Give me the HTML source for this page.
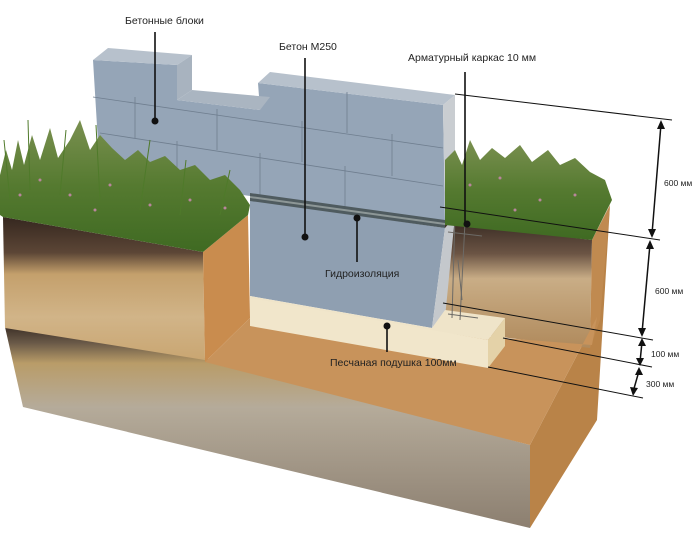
<!DOCTYPE html>
<html><head><meta charset="utf-8"><style>
html,body{margin:0;padding:0;background:#fff;}
svg{display:block;}
text{font-family:"Liberation Sans",sans-serif;font-size:10.5px;fill:#222;}
</style></head><body>
<svg width="694" height="536" viewBox="0 0 694 536" xmlns="http://www.w3.org/2000/svg">
<defs>
<linearGradient id="upper" x1="0" y1="0" x2="0" y2="1">
<stop offset="0" stop-color="#35271f"/><stop offset="0.25" stop-color="#5c4636"/>
<stop offset="0.4" stop-color="#c4a06c"/><stop offset="0.7" stop-color="#d1b488"/>
<stop offset="1" stop-color="#c9a672"/></linearGradient>
<linearGradient id="lower" x1="0" y1="0" x2="0" y2="1">
<stop offset="0" stop-color="#3e3128"/><stop offset="0.08" stop-color="#6a5a48"/>
<stop offset="0.18" stop-color="#b99c68"/><stop offset="0.4" stop-color="#b5ab9a"/>
<stop offset="1" stop-color="#8c7f70"/></linearGradient>
<linearGradient id="rsoil" x1="0" y1="0" x2="0" y2="1">
<stop offset="0" stop-color="#3a2c24"/><stop offset="0.25" stop-color="#6b5444"/>
<stop offset="0.45" stop-color="#c9ad86"/><stop offset="1" stop-color="#b08a5c"/></linearGradient>
<linearGradient id="grass" x1="0" y1="0" x2="0" y2="1">
<stop offset="0" stop-color="#7a9050"/><stop offset="0.5" stop-color="#557a30"/><stop offset="1" stop-color="#3f6a22"/></linearGradient>
</defs>

<!-- right outer face -->
<polygon points="530,445 597,317 610,205 597,420 530,528" fill="#b98348"/>
<!-- lower slab front -->
<polygon points="5,327 205,358 530,445 530,528 23,407" fill="url(#lower)"/>
<!-- upper left soil block front -->
<polygon points="3,217 203,252 205,360 5,328" fill="url(#upper)"/>
<!-- left block right face -->
<polygon points="203,252 248,215 250,318 205,362" fill="#c98c4e"/>

<!-- right soil block face -->
<polygon points="445,222 592,240 590,348 445,330" fill="url(#rsoil)"/>
<polygon points="592,240 610,205 600,320 590,348" fill="#c08a50"/>

<!-- trench floor -->
<polygon points="205,362 250,318 592,345 597,317 530,445" fill="#c8935b"/>

<!-- wall blocks -->
<polygon points="93,60 177,65 177,100 260,110 258,83 443,105 445,222 250,196 100,175" fill="#95a5b7"/>
<polygon points="93,60 108,48 192,55 177,65" fill="#b7c1cc"/>
<polygon points="177,100 192,90 270,97 260,110" fill="#aab5c1"/>
<polygon points="258,83 270,72 455,95 443,105" fill="#b7c1cc"/>
<polygon points="177,65 192,55 192,90 177,100" fill="#a8b3bf"/>
<polygon points="443,105 455,95 455,210 445,222" fill="#c9cdd1"/>
<g stroke="#6f7e8f" stroke-width="0.8" fill="none">
<line x1="93" y1="97" x2="443" y2="148"/>
<line x1="100" y1="133" x2="443" y2="186"/>
<line x1="347" y1="92" x2="347" y2="133"/>
<line x1="135" y1="97" x2="135" y2="138"/>
<line x1="217" y1="109" x2="217" y2="150"/>
<line x1="302" y1="121" x2="302" y2="162"/>
<line x1="392" y1="134" x2="392" y2="176"/>
<line x1="177" y1="141" x2="177" y2="185"/>
<line x1="260" y1="153" x2="260" y2="196"/>
<line x1="345" y1="166" x2="345" y2="210"/>
</g>

<!-- concrete base -->
<polygon points="250,200 445,228 432,328 250,296" fill="#8f9fb1"/>
<polygon points="445,228 455,216 445,318 432,328" fill="#c4c8cc"/>
<polygon points="250,193 445,220 445,228 250,201" fill="#4f5b5f"/>
<polygon points="250,196 445,223 445,225 250,198" fill="#8d9797"/>

<!-- sand cushion -->
<polygon points="250,296 432,328 445,310 505,318 488,340 250,300" fill="#efe4c9"/>
<polygon points="250,298 488,340 488,368 250,326" fill="#f1e6cb"/>
<polygon points="488,340 505,318 505,346 488,368" fill="#e4d2a8"/>

<!-- rebar -->
<g stroke="#6c6a66" stroke-width="1" fill="none">
<line x1="455" y1="215" x2="452" y2="318"/>
<line x1="465" y1="222" x2="460" y2="320"/>
<line x1="448" y1="232" x2="482" y2="236"/>
<line x1="448" y1="314" x2="478" y2="318"/>
<line x1="458" y1="260" x2="462" y2="300"/>
</g>

<!-- left grass -->
<path d="M0,215 L0,175 L6,150 L12,170 L18,140 L24,165 L32,135 L40,160 L50,128 L58,158 L70,140 L80,120 L90,150 L100,135 L112,148 L125,160 L138,150 L150,162 L165,156 L180,170 L195,165 L210,180 L225,175 L240,190 L250,205 L248,215 L203,252 L3,217 Z" fill="url(#grass)"/>
<g stroke="#4f7a2a" stroke-width="1" fill="none">
<path d="M10,200 L4,140 M30,190 L28,120 M60,195 L66,130 M100,200 L96,125 M140,210 L150,140 M180,215 L186,160 M220,215 L230,170"/>
</g>
<g fill="#b9869c"><circle cx="40" cy="180" r="1.5"/><circle cx="70" cy="195" r="1.5"/><circle cx="110" cy="185" r="1.5"/><circle cx="150" cy="205" r="1.5"/><circle cx="190" cy="200" r="1.5"/><circle cx="95" cy="210" r="1.5"/><circle cx="225" cy="208" r="1.5"/><circle cx="20" cy="195" r="1.5"/></g>
<!-- right grass -->
<path d="M445,225 L445,160 L455,150 L462,165 L470,140 L480,160 L492,148 L505,158 L520,145 L532,162 L548,150 L560,165 L575,158 L590,172 L605,180 L612,200 L592,240 Z" fill="url(#grass)"/>
<g fill="#b9869c"><circle cx="470" cy="185" r="1.5"/><circle cx="500" cy="178" r="1.5"/><circle cx="540" cy="200" r="1.5"/><circle cx="575" cy="195" r="1.5"/><circle cx="515" cy="210" r="1.5"/></g>

<!-- leader lines -->
<g stroke="#111" stroke-width="1.6">
<line x1="155" y1="32" x2="155" y2="120"/>
<line x1="305" y1="58" x2="305" y2="237"/>
<line x1="465" y1="72" x2="465" y2="224"/>
<line x1="357" y1="218" x2="357" y2="262"/>
<line x1="387" y1="326" x2="387" y2="352"/>
</g>
<g fill="#111"><circle cx="155" cy="121" r="3.5"/><circle cx="305" cy="237" r="3.5"/><circle cx="467" cy="224" r="3.5"/><circle cx="357" cy="218" r="3.5"/><circle cx="387" cy="326" r="3.5"/></g>

<!-- dimension lines -->
<g stroke="#111" stroke-width="1" fill="none">
<line x1="455" y1="94" x2="672" y2="120"/>
<line x1="440" y1="207" x2="660" y2="240"/>
<line x1="443" y1="303" x2="653" y2="340"/>
<line x1="503" y1="338" x2="652" y2="367"/>
<line x1="488" y1="367" x2="643" y2="398"/>
</g>
<g stroke="#111" stroke-width="1.5">
<line x1="661" y1="124" x2="652" y2="234"/>
<line x1="650" y1="244" x2="642" y2="333"/>
<line x1="642" y1="342" x2="640" y2="362"/>
<line x1="639" y1="371" x2="633" y2="392"/>
</g>
<g fill="#111">
<polygon points="661,120 657,129 665,129"/><polygon points="652,238 648,229 656,229"/>
<polygon points="650,240 646,249 654,249"/><polygon points="642,337 638,328 646,328"/>
<polygon points="642,338 638,346 646,346"/><polygon points="640,366 636,358 644,358"/>
<polygon points="639,367 635,375 643,375"/><polygon points="633,396 630,387 638,388"/>
</g>

<text x="125" y="24">Бетонные блоки</text>
<text x="279" y="50">Бетон М250</text>
<text x="408" y="61">Арматурный каркас 10 мм</text>
<text x="325" y="277">Гидроизоляция</text>
<text x="330" y="366">Песчаная подушка 100мм</text>
<text x="664" y="186" style="font-size:8.5px">600 мм</text>
<text x="655" y="294" style="font-size:8.5px">600 мм</text>
<text x="651" y="357" style="font-size:8.5px">100 мм</text>
<text x="646" y="387" style="font-size:8.5px">300 мм</text>
</svg>
</body></html>
